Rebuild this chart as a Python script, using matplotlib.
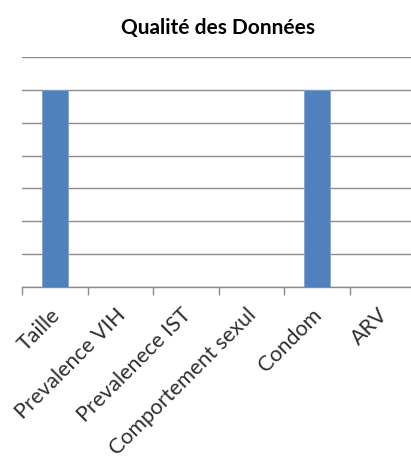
import matplotlib
matplotlib.use("Agg")
import matplotlib.pyplot as plt
import matplotlib.transforms as mtransforms
import numpy as np

categories = ["Taille", "Prevalence VIH", "Prevalenece IST",
              "Comportement sexul", "Condom", "ARV"]
values = [6, 0, 0, 0, 6, 0]
y_max = 7

plt.rcParams["font.family"] = ["Lato", "DejaVu Sans"]

fig = plt.figure(figsize=(4.11, 4.62), dpi=100)
ax = fig.add_axes([22 / 411, 1 - 287 / 462, 393 / 411, 230 / 462])

x = np.arange(len(categories))
ax.bar(x, values, width=0.4, color="#4F81BD", edgecolor="#7fa3d0",
       linewidth=0.6, zorder=3)

ax.set_xlim(-0.5, len(categories) - 0.5)
ax.set_ylim(0, y_max)
ax.set_yticks(np.arange(0, y_max + 1))
ax.yaxis.grid(True, color="#8c8c8c", linewidth=1.0)
ax.set_axisbelow(True)
ax.tick_params(axis="y", left=False, labelleft=False)

# category boundaries carry the ticks; labels sit at category centres
ax.set_xticks(np.arange(-0.5, len(categories)), minor=False)
ax.set_xticks(x, minor=True)
ax.tick_params(axis="x", which="major", length=6, color="#8c8c8c",
               width=1.0, labelbottom=False)
ax.tick_params(axis="x", which="minor", length=0, pad=13)
ax.set_xticklabels(categories, minor=True, rotation=45, ha="right",
                   va="top", rotation_mode="anchor", fontsize=15.5,
                   color="#2e2e2e")
shift = mtransforms.ScaledTranslation(-5 / 100, 0, fig.dpi_scale_trans)
for lbl in ax.get_xticklabels(minor=True):
    lbl.set_transform(lbl.get_transform() + shift)

for side in ("top", "right", "left"):
    ax.spines[side].set_visible(False)
ax.spines["bottom"].set_color("#8c8c8c")
ax.spines["bottom"].set_linewidth(1.0)

fig.text(218 / 411, 1 - 28 / 462, "Qualité des Données", ha="center",
         va="center", fontsize=15, fontweight="bold", color="#000000")

fig.savefig("out.png", dpi=100)
